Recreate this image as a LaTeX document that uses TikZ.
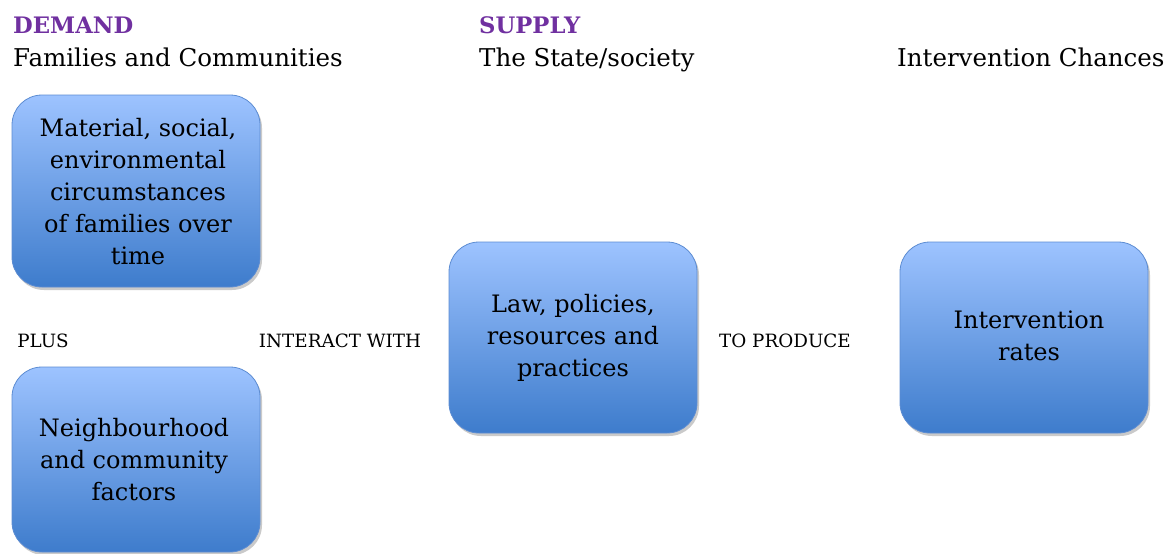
\documentclass[tikz,border=0pt]{standalone}
\usepackage{fontspec}
\setmainfont{DejaVu Serif}
\usetikzlibrary{shadows}
\definecolor{boxtop}{RGB}{157,195,255}
\definecolor{boxbot}{RGB}{62,124,204}
\definecolor{boxline}{RGB}{92,140,210}
\definecolor{headpurple}{RGB}{112,48,160}
\tikzset{
  bluebox/.style={draw=boxline, line width=0.8pt, rounded corners=30pt,
    top color=boxtop, bottom color=boxbot,
    drop shadow={shadow xshift=2pt, shadow yshift=-3pt, opacity=0.35, fill=black!60}},
  boxtext/.style={align=center, font=\fontsize{24}{32}\selectfont, text=black, inner sep=0pt},
  head/.style={anchor=base west, inner sep=0pt, font=\bfseries\fontsize{22.7}{26}\selectfont, text=headpurple},
  sub/.style={anchor=base west, inner sep=0pt, font=\fontsize{24.5}{28}\selectfont},
  link/.style={anchor=center, inner sep=0pt, font=\fontsize{18.3}{22}\selectfont}
}
\begin{document}
\begin{tikzpicture}[x=1pt,y=-1pt]
\useasboundingbox (0,0) rectangle (1173,554);
% boxes
\path[bluebox] (12,95) rectangle (260,287);
\path[bluebox] (12,367) rectangle (260,552);
\path[bluebox] (449,242) rectangle (697,433);
\path[bluebox] (900,242) rectangle (1148,433);
\node[boxtext] (b1) at (138,192) {Material, social,\\environmental\\circumstances\\of families over\\time};
\node[boxtext] (b2) at (134,460) {Neighbourhood\\and community\\factors};
\node[boxtext] (b3) at (573,338) {Law, policies,\\resources and\\practices};
\node[boxtext] (b4) at (1029,336) {Intervention\\rates};
% headings
\node[head] (h1) at (13,33) {DEMAND};
\node[sub] (s1) at (13,66) {Families and Communities};
\node[head] (h2) at (479,33) {SUPPLY};
\node[sub] (s2) at (479,66) {The State/society};
\node[sub] (s3) at (897,66) {Intervention Chances};
% links
\node[link] (l1) at (43,341) {PLUS};
\node[link] (l2) at (340,341) {INTERACT WITH};
\node[link] (l3) at (785,341) {TO PRODUCE};
\end{tikzpicture}
\end{document}
